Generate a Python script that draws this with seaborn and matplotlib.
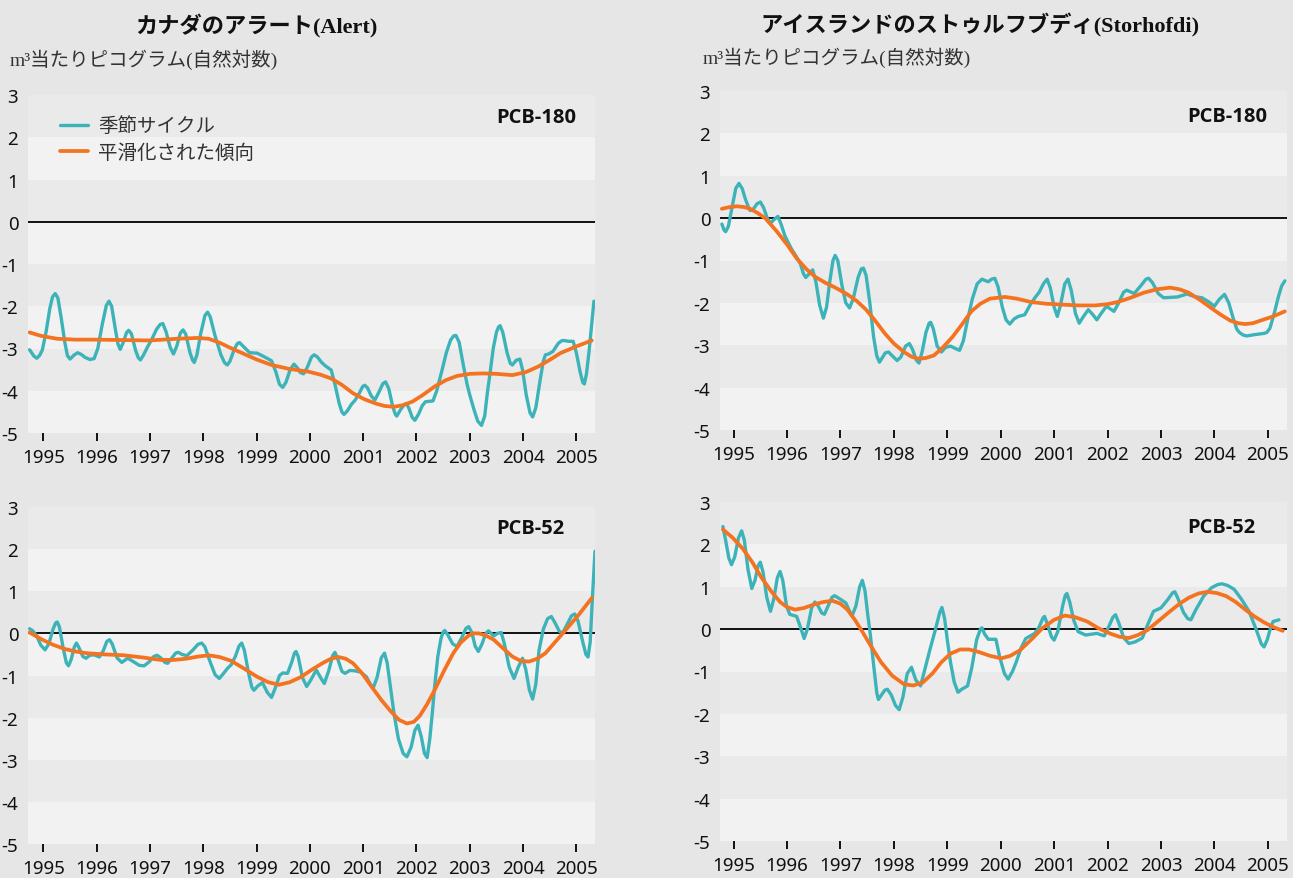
import matplotlib
matplotlib.use("Agg")
import matplotlib.pyplot as plt
from matplotlib import font_manager
import seaborn as sns
import pandas as pd

# ---------------- data ----------------
# Alert, PCB-180
alert180_season_x = [1994.74, 1994.82, 1994.875, 1994.93, 1994.98, 1995.05, 1995.12, 1995.17, 1995.22, 1995.27,
                     1995.33, 1995.40, 1995.45, 1995.50, 1995.57, 1995.64, 1995.71, 1995.78, 1995.87, 1995.95,
                     1996.02, 1996.10, 1996.18, 1996.23, 1996.28, 1996.35, 1996.40, 1996.44, 1996.50, 1996.56,
                     1996.60, 1996.65, 1996.73, 1996.78, 1996.82, 1996.88, 1996.95, 1997.03, 1997.12, 1997.19,
                     1997.24, 1997.30, 1997.38, 1997.44, 1997.50, 1997.57, 1997.62, 1997.67, 1997.75, 1997.80,
                     1997.83, 1997.88, 1997.95, 1998.03, 1998.08, 1998.13, 1998.22, 1998.33, 1998.40, 1998.45,
                     1998.50, 1998.58, 1998.64, 1998.68, 1998.75, 1998.87, 1999.01, 1999.15, 1999.28, 1999.36,
                     1999.43, 1999.49, 1999.55, 1999.63, 1999.70, 1999.76, 1999.82, 1999.88, 1999.95, 2000.03,
                     2000.08, 2000.14, 2000.22, 2000.29, 2000.40, 2000.47, 2000.55, 2000.60, 2000.64, 2000.70,
                     2000.78, 2000.85, 2000.93, 2000.99, 2001.03, 2001.08, 2001.15, 2001.22, 2001.30, 2001.37,
                     2001.42, 2001.48, 2001.55, 2001.60, 2001.63, 2001.70, 2001.77, 2001.81, 2001.86, 2001.92,
                     2001.97, 2002.04, 2002.11, 2002.17, 2002.31, 2002.38, 2002.48, 2002.56, 2002.64, 2002.70,
                     2002.74, 2002.80, 2002.88, 2002.95, 2003.00, 2003.08, 2003.15, 2003.22, 2003.28, 2003.33,
                     2003.38, 2003.44, 2003.50, 2003.54, 2003.57, 2003.62, 2003.70, 2003.76, 2003.80, 2003.87,
                     2003.94, 2003.99, 2004.06, 2004.13, 2004.18, 2004.24, 2004.32, 2004.38, 2004.42, 2004.48,
                     2004.56, 2004.66, 2004.72, 2004.76, 2004.86, 2004.94, 2005.00, 2005.07, 2005.12, 2005.15,
                     2005.19, 2005.24, 2005.29, 2005.33]
alert180_season_y = [-3.03, -3.18, -3.23, -3.16, -3.03, -2.60, -2.05, -1.78, -1.70, -1.80,
                     -2.25, -2.85, -3.17, -3.25, -3.16, -3.10, -3.14, -3.21, -3.26, -3.24,
                     -3.00, -2.45, -1.98, -1.88, -2.00, -2.55, -2.90, -3.02, -2.85, -2.62,
                     -2.57, -2.65, -3.05, -3.22, -3.27, -3.15, -2.97, -2.79, -2.55, -2.43,
                     -2.41, -2.60, -2.98, -3.13, -2.95, -2.63, -2.56, -2.66, -3.10, -3.28,
                     -3.33, -3.15, -2.65, -2.22, -2.14, -2.25, -2.70, -3.15, -3.34, -3.39,
                     -3.30, -3.02, -2.88, -2.86, -2.95, -3.10, -3.11, -3.20, -3.29, -3.55,
                     -3.85, -3.92, -3.80, -3.50, -3.37, -3.45, -3.57, -3.60, -3.45, -3.20,
                     -3.15, -3.20, -3.33, -3.41, -3.51, -3.85, -4.30, -4.50, -4.56, -4.48,
                     -4.32, -4.22, -4.05, -3.90, -3.87, -3.93, -4.12, -4.22, -4.02, -3.83,
                     -3.79, -3.95, -4.35, -4.55, -4.60, -4.45, -4.33, -4.30, -4.42, -4.63,
                     -4.70, -4.55, -4.35, -4.26, -4.24, -4.00, -3.51, -3.10, -2.80, -2.70,
                     -2.69, -2.85, -3.40, -3.85, -4.10, -4.45, -4.72, -4.82, -4.60, -4.05,
                     -3.59, -3.00, -2.62, -2.49, -2.46, -2.62, -3.10, -3.35, -3.39, -3.28,
                     -3.25, -3.50, -4.10, -4.52, -4.62, -4.40, -3.75, -3.30, -3.15, -3.13,
                     -3.07, -2.88, -2.82, -2.81, -2.83, -2.83, -3.10, -3.55, -3.80, -3.84,
                     -3.60, -3.05, -2.40, -1.88]
alert180_trend_x = [1994.74, 1994.95, 1995.26, 1995.60, 1995.95, 1996.50, 1996.99, 1997.50, 1997.90, 1998.10,
                    1998.30, 1998.50, 1998.73, 1999.00, 1999.28, 1999.60, 1999.98, 2000.20, 2000.40, 2000.60,
                    2000.81, 2001.02, 2001.23, 2001.40, 2001.58, 2001.75, 2001.92, 2002.12, 2002.34, 2002.55,
                    2002.76, 2003.00, 2003.24, 2003.50, 2003.80, 2004.05, 2004.28, 2004.50, 2004.70, 2005.00,
                    2005.29]
alert180_trend_y = [-2.62, -2.70, -2.77, -2.79, -2.79, -2.80, -2.81, -2.77, -2.75, -2.77,
                    -2.86, -2.98, -3.11, -3.26, -3.39, -3.48, -3.55, -3.62, -3.71, -3.86,
                    -4.06, -4.20, -4.30, -4.36, -4.38, -4.34, -4.26, -4.10, -3.90, -3.75,
                    -3.65, -3.60, -3.59, -3.60, -3.63, -3.56, -3.43, -3.27, -3.11, -2.95,
                    -2.81]

# Storhofdi, PCB-180
storh180_season_x = [1994.78, 1994.82, 1994.85, 1994.90, 1994.97, 1995.04, 1995.10, 1995.16, 1995.22, 1995.28,
                     1995.31, 1995.36, 1995.44, 1995.50, 1995.56, 1995.63, 1995.69, 1995.76, 1995.83, 1995.89,
                     1995.96, 1996.08, 1996.18, 1996.25, 1996.31, 1996.35, 1996.41, 1996.48, 1996.54, 1996.61,
                     1996.68, 1996.74, 1996.80, 1996.86, 1996.90, 1996.95, 1997.03, 1997.10, 1997.17, 1997.24,
                     1997.33, 1997.39, 1997.43, 1997.48, 1997.55, 1997.62, 1997.68, 1997.73, 1997.78, 1997.84,
                     1997.90, 1997.97, 1998.06, 1998.13, 1998.22, 1998.29, 1998.35, 1998.42, 1998.47, 1998.53,
                     1998.60, 1998.66, 1998.69, 1998.74, 1998.81, 1998.89, 1998.97, 1999.06, 1999.14, 1999.23,
                     1999.30, 1999.38, 1999.47, 1999.56, 1999.65, 1999.72, 1999.77, 1999.83, 1999.89, 1999.95,
                     2000.03, 2000.10, 2000.17, 2000.25, 2000.33, 2000.45, 2000.55, 2000.64, 2000.72, 2000.80,
                     2000.87, 2000.93, 2001.00, 2001.06, 2001.12, 2001.20, 2001.26, 2001.32, 2001.40, 2001.47,
                     2001.55, 2001.64, 2001.72, 2001.80, 2001.88, 2001.98, 2002.05, 2002.12, 2002.20, 2002.30,
                     2002.36, 2002.50, 2002.62, 2002.72, 2002.77, 2002.84, 2002.95, 2003.05, 2003.18, 2003.31,
                     2003.49, 2003.62, 2003.77, 2003.90, 2004.00, 2004.09, 2004.19, 2004.27, 2004.35, 2004.42,
                     2004.47, 2004.54, 2004.61, 2004.75, 2004.93, 2004.98, 2005.04, 2005.12, 2005.20, 2005.26,
                     2005.32]
storh180_season_y = [-0.14, -0.28, -0.32, -0.20, 0.25, 0.70, 0.82, 0.70, 0.45, 0.25,
                     0.18, 0.20, 0.34, 0.38, 0.25, 0.00, -0.12, -0.03, 0.04, -0.15,
                     -0.42, -0.72, -0.92, -1.08, -1.32, -1.40, -1.32, -1.22, -1.50, -2.05,
                     -2.36, -2.10, -1.50, -1.00, -0.88, -1.00, -1.60, -2.00, -2.12, -1.90,
                     -1.40, -1.20, -1.18, -1.35, -2.00, -2.80, -3.25, -3.40, -3.30, -3.18,
                     -3.16, -3.25, -3.36, -3.28, -3.02, -2.96, -3.10, -3.35, -3.42, -3.15,
                     -2.70, -2.48, -2.46, -2.62, -3.02, -3.16, -3.05, -3.02, -3.07, -3.12,
                     -2.90, -2.40, -1.90, -1.55, -1.44, -1.48, -1.50, -1.44, -1.42, -1.62,
                     -2.10, -2.40, -2.50, -2.38, -2.32, -2.28, -2.05, -1.88, -1.75, -1.55,
                     -1.44, -1.65, -2.10, -2.32, -2.05, -1.55, -1.44, -1.70, -2.25, -2.48,
                     -2.32, -2.16, -2.27, -2.40, -2.25, -2.08, -2.14, -2.20, -2.02, -1.75,
                     -1.70, -1.78, -1.60, -1.44, -1.42, -1.52, -1.78, -1.88, -1.87, -1.86,
                     -1.79, -1.85, -1.88, -1.98, -2.08, -1.92, -1.80, -2.00, -2.35, -2.62,
                     -2.70, -2.76, -2.78, -2.75, -2.72, -2.70, -2.60, -2.25, -1.85, -1.60,
                     -1.48]
storh180_trend_x = [1994.78, 1994.92, 1995.06, 1995.20, 1995.31, 1995.45, 1995.59, 1995.80, 1996.01, 1996.18,
                    1996.36, 1996.52, 1996.71, 1996.92, 1997.13, 1997.30, 1997.48, 1997.65, 1997.83, 1998.00,
                    1998.19, 1998.33, 1998.47, 1998.60, 1998.75, 1998.92, 1999.10, 1999.28, 1999.45, 1999.62,
                    1999.80, 2000.08, 2000.30, 2000.57, 2000.85, 2001.14, 2001.45, 2001.77, 2002.00, 2002.19,
                    2002.43, 2002.68, 2002.92, 2003.17, 2003.35, 2003.52, 2003.72, 2003.94, 2004.12, 2004.30,
                    2004.45, 2004.58, 2004.72, 2004.86, 2005.10, 2005.32]
storh180_trend_y = [0.22, 0.26, 0.28, 0.26, 0.22, 0.12, 0.00, -0.30, -0.64, -0.95,
                    -1.20, -1.38, -1.52, -1.65, -1.80, -1.95, -2.16, -2.42, -2.72, -2.96,
                    -3.16, -3.27, -3.32, -3.30, -3.24, -3.05, -2.80, -2.50, -2.20, -2.02,
                    -1.90, -1.86, -1.90, -1.98, -2.02, -2.04, -2.06, -2.06, -2.03, -1.98,
                    -1.88, -1.76, -1.68, -1.64, -1.68, -1.76, -1.92, -2.12, -2.28, -2.42,
                    -2.48, -2.50, -2.48, -2.42, -2.32, -2.20]

# Alert, PCB-52
alert52_season_x = [1994.74, 1994.80, 1994.875, 1994.95, 1995.03, 1995.10, 1995.18, 1995.23, 1995.26, 1995.30,
                    1995.37, 1995.43, 1995.47, 1995.52, 1995.58, 1995.62, 1995.67, 1995.74, 1995.80, 1995.87,
                    1995.95, 1996.05, 1996.12, 1996.19, 1996.24, 1996.29, 1996.38, 1996.47, 1996.58, 1996.70,
                    1996.80, 1996.89, 1996.98, 1997.07, 1997.13, 1997.20, 1997.28, 1997.33, 1997.40, 1997.48,
                    1997.53, 1997.60, 1997.69, 1997.80, 1997.90, 1997.97, 1998.03, 1998.12, 1998.22, 1998.30,
                    1998.38, 1998.46, 1998.52, 1998.60, 1998.67, 1998.72, 1998.77, 1998.85, 1998.91, 1998.95,
                    1999.02, 1999.11, 1999.20, 1999.28, 1999.35, 1999.43, 1999.49, 1999.58, 1999.66, 1999.71,
                    1999.74, 1999.78, 1999.86, 1999.94, 2000.02, 2000.12, 2000.20, 2000.27, 2000.35, 2000.43,
                    2000.47, 2000.52, 2000.60, 2000.66, 2000.75, 2000.85, 2000.95, 2001.06, 2001.13, 2001.19,
                    2001.26, 2001.34, 2001.40, 2001.45, 2001.52, 2001.58, 2001.66, 2001.75, 2001.82, 2001.90,
                    2001.97, 2002.03, 2002.09, 2002.15, 2002.20, 2002.25, 2002.30, 2002.34, 2002.40, 2002.46,
                    2002.50, 2002.53, 2002.58, 2002.68, 2002.76, 2002.85, 2002.93, 2002.98, 2003.04, 2003.10,
                    2003.16, 2003.23, 2003.30, 2003.35, 2003.45, 2003.52, 2003.59, 2003.65, 2003.74, 2003.83,
                    2003.91, 2003.99, 2004.05, 2004.12, 2004.18, 2004.24, 2004.30, 2004.38, 2004.46, 2004.53,
                    2004.60, 2004.68, 2004.74, 2004.82, 2004.91, 2004.97, 2005.03, 2005.12, 2005.18, 2005.22,
                    2005.26, 2005.30, 2005.35]
alert52_season_y = [0.11, 0.06, -0.06, -0.28, -0.39, -0.25, 0.10, 0.25, 0.27, 0.15,
                    -0.35, -0.70, -0.77, -0.62, -0.32, -0.23, -0.35, -0.55, -0.59, -0.52,
                    -0.51, -0.56, -0.42, -0.19, -0.15, -0.25, -0.58, -0.69, -0.59, -0.68,
                    -0.76, -0.77, -0.68, -0.55, -0.52, -0.58, -0.69, -0.71, -0.60, -0.47,
                    -0.45, -0.50, -0.53, -0.40, -0.26, -0.23, -0.32, -0.65, -0.98, -1.07,
                    -0.95, -0.82, -0.75, -0.55, -0.30, -0.23, -0.40, -0.95, -1.28, -1.35,
                    -1.25, -1.17, -1.40, -1.52, -1.30, -1.00, -0.94, -0.95, -0.68, -0.47,
                    -0.43, -0.55, -1.05, -1.26, -1.10, -0.87, -1.05, -1.19, -0.90, -0.52,
                    -0.45, -0.60, -0.90, -0.95, -0.88, -0.89, -0.92, -1.03, -1.20, -1.29,
                    -1.05, -0.58, -0.47, -0.70, -1.35, -1.92, -2.50, -2.85, -2.93, -2.70,
                    -2.30, -2.18, -2.45, -2.85, -2.95, -2.50, -1.85, -1.27, -0.55, -0.12,
                    0.03, 0.07, -0.02, -0.25, -0.31, -0.10, 0.12, 0.16, 0.02, -0.30,
                    -0.43, -0.25, 0.00, 0.06, -0.06, 0.00, 0.02, -0.25, -0.80, -1.07,
                    -0.80, -0.59, -0.85, -1.35, -1.56, -1.20, -0.40, 0.10, 0.35, 0.40,
                    0.25, 0.05, 0.00, 0.20, 0.42, 0.46, 0.30, -0.20, -0.50, -0.56,
                    -0.20, 0.80, 1.95]
alert52_trend_x = [1994.74, 1994.85, 1994.98, 1995.18, 1995.40, 1995.60, 1995.81, 1996.15, 1996.51, 1996.85,
                   1997.20, 1997.45, 1997.69, 1997.90, 1998.10, 1998.30, 1998.52, 1998.77, 1999.01, 1999.22,
                   1999.42, 1999.62, 1999.84, 2000.05, 2000.26, 2000.40, 2000.53, 2000.67, 2000.81, 2000.98,
                   2001.16, 2001.34, 2001.51, 2001.67, 2001.82, 2001.95, 2002.06, 2002.20, 2002.34, 2002.52,
                   2002.69, 2002.83, 2002.97, 2003.07, 2003.17, 2003.30, 2003.45, 2003.62, 2003.80, 2003.95,
                   2004.11, 2004.27, 2004.42, 2004.62, 2004.84, 2005.05, 2005.29]
alert52_trend_y = [0.02, -0.06, -0.15, -0.27, -0.37, -0.43, -0.47, -0.50, -0.52, -0.57,
                   -0.63, -0.63, -0.60, -0.55, -0.52, -0.56, -0.65, -0.84, -1.03, -1.16,
                   -1.22, -1.16, -1.03, -0.85, -0.69, -0.60, -0.56, -0.60, -0.71, -0.95,
                   -1.27, -1.58, -1.84, -2.05, -2.14, -2.10, -1.96, -1.68, -1.35, -0.88,
                   -0.47, -0.22, -0.06, 0.00, 0.00, -0.05, -0.15, -0.35, -0.55, -0.65,
                   -0.67, -0.60, -0.47, -0.18, 0.14, 0.45, 0.84]

# Storhofdi, PCB-52
storh52_season_x = [1994.80, 1994.85, 1994.91, 1994.96, 1995.02, 1995.09, 1995.15, 1995.20, 1995.27, 1995.34,
                    1995.40, 1995.46, 1995.50, 1995.55, 1995.62, 1995.69, 1995.75, 1995.82, 1995.87, 1995.92,
                    1995.99, 1996.05, 1996.18, 1996.25, 1996.32, 1996.38, 1996.46, 1996.52, 1996.58, 1996.65,
                    1996.70, 1996.77, 1996.84, 1996.89, 1996.98, 1997.10, 1997.18, 1997.22, 1997.29, 1997.36,
                    1997.41, 1997.46, 1997.51, 1997.56, 1997.63, 1997.68, 1997.71, 1997.77, 1997.83, 1997.88,
                    1997.95, 1998.03, 1998.10, 1998.17, 1998.25, 1998.33, 1998.41, 1998.50, 1998.58, 1998.68,
                    1998.78, 1998.86, 1998.90, 1998.95, 1999.00, 1999.06, 1999.13, 1999.20, 1999.27, 1999.38,
                    1999.46, 1999.55, 1999.62, 1999.65, 1999.70, 1999.77, 1999.91, 1999.98, 2000.07, 2000.14,
                    2000.22, 2000.29, 2000.38, 2000.47, 2000.64, 2000.72, 2000.79, 2000.82, 2000.88, 2000.95,
                    2001.00, 2001.07, 2001.16, 2001.21, 2001.24, 2001.29, 2001.37, 2001.45, 2001.59, 2001.80,
                    2001.94, 2002.02, 2002.10, 2002.15, 2002.21, 2002.30, 2002.40, 2002.52, 2002.65, 2002.75,
                    2002.86, 2003.00, 2003.13, 2003.22, 2003.26, 2003.32, 2003.42, 2003.50, 2003.56, 2003.65,
                    2003.80, 2003.95, 2004.06, 2004.14, 2004.25, 2004.37, 2004.50, 2004.65, 2004.78, 2004.88,
                    2004.93, 2004.99, 2005.05, 2005.10, 2005.21]
storh52_season_y = [2.42, 2.10, 1.68, 1.52, 1.70, 2.15, 2.32, 2.10, 1.40, 0.96,
                    1.15, 1.50, 1.58, 1.35, 0.75, 0.42, 0.70, 1.22, 1.36, 1.15,
                    0.55, 0.35, 0.30, 0.05, -0.22, 0.00, 0.50, 0.64, 0.55, 0.38,
                    0.35, 0.55, 0.75, 0.79, 0.72, 0.62, 0.40, 0.32, 0.55, 1.00,
                    1.15, 0.90, 0.35, -0.14, -0.95, -1.50, -1.66, -1.55, -1.44, -1.42,
                    -1.55, -1.80, -1.90, -1.60, -1.05, -0.90, -1.20, -1.34, -0.95, -0.46,
                    0.00, 0.40, 0.51, 0.25, -0.25, -0.78, -1.25, -1.49, -1.42, -1.34,
                    -0.90, -0.25, 0.00, 0.03, -0.12, -0.24, -0.24, -0.65, -1.05, -1.18,
                    -1.00, -0.78, -0.45, -0.22, -0.10, 0.05, 0.26, 0.30, 0.10, -0.18,
                    -0.26, -0.05, 0.55, 0.80, 0.84, 0.65, 0.20, -0.06, -0.14, -0.10,
                    -0.16, 0.05, 0.28, 0.34, 0.15, -0.20, -0.34, -0.30, -0.21, 0.10,
                    0.42, 0.50, 0.70, 0.86, 0.88, 0.72, 0.40, 0.25, 0.22, 0.45,
                    0.78, 0.98, 1.05, 1.07, 1.03, 0.94, 0.72, 0.42, 0.00, -0.35,
                    -0.42, -0.25, 0.02, 0.18, 0.22]
storh52_trend_x = [1994.80, 1994.98, 1995.17, 1995.35, 1995.52, 1995.70, 1995.87, 1996.00, 1996.15, 1996.32,
                   1996.50, 1996.68, 1996.85, 1997.00, 1997.13, 1997.27, 1997.41, 1997.58, 1997.76, 1997.97,
                   1998.19, 1998.36, 1998.54, 1998.72, 1998.89, 1999.06, 1999.24, 1999.41, 1999.59, 1999.80,
                   2000.01, 2000.18, 2000.36, 2000.57, 2000.78, 2001.00, 2001.20, 2001.40, 2001.62, 2001.83,
                   2002.04, 2002.22, 2002.40, 2002.57, 2002.75, 2002.96, 2003.17, 2003.35, 2003.52, 2003.70,
                   2003.87, 2004.05, 2004.22, 2004.40, 2004.58, 2004.75, 2004.93, 2005.10, 2005.28]
storh52_trend_y = [2.35, 2.16, 1.90, 1.58, 1.22, 0.90, 0.64, 0.52, 0.46, 0.50,
                   0.58, 0.64, 0.67, 0.60, 0.46, 0.22, -0.06, -0.42, -0.78, -1.10,
                   -1.30, -1.33, -1.26, -1.05, -0.78, -0.58, -0.48, -0.48, -0.54, -0.63,
                   -0.69, -0.63, -0.50, -0.25, 0.02, 0.22, 0.32, 0.28, 0.18, 0.02,
                   -0.10, -0.18, -0.21, -0.14, -0.02, 0.20, 0.42, 0.60, 0.74, 0.84,
                   0.88, 0.85, 0.78, 0.64, 0.46, 0.30, 0.16, 0.05, -0.04]

years = list(range(1995, 2006))
yticks = [3, 2, 1, 0, -1, -2, -3, -4, -5]
series_labels = ["季節サイクル", "平滑化された傾向"]
compound_labels = ["PCB-180", "PCB-52"]
station_titles = ["カナダのアラート(Alert)", "アイスランドのストゥルフブディ(Storhofdi)"]
unit_label = "m³当たりピコグラム(自然対数)"

# ---------------- style ----------------
sns.set_theme(style="white")


def has_font(name):
    try:
        font_manager.findfont(name, fallback_to_default=False)
        return True
    except Exception:
        return False


cjk = "Noto Sans CJK JP"
num_font = "Liberation Sans Narrow" if has_font("Liberation Sans Narrow") else "Noto Sans"
plt.rcParams["font.family"] = [num_font, cjk, "DejaVu Sans"]
bold_font = "Open Sans" if has_font("Open Sans") else "DejaVu Sans"

FIG_BG = "#e6e6e6"
BAND_DARK = "#eaeaea"
BAND_LIGHT = "#f2f2f2"
TEAL = "#3cb3b8"
ORANGE = "#f47320"

fig = plt.figure(figsize=(12.93, 8.79), dpi=100, facecolor=FIG_BG)

W, H = 1293, 879


def rect(l, t, r, b):
    return [l / W, 1 - b / H, (r - l) / W, (b - t) / H]


panels = [
    (rect(28, 96, 595, 434), alert180_season_x, alert180_season_y, alert180_trend_x, alert180_trend_y,
     compound_labels[0], (1994.71, 2005.35), True, (0.826, 0.935)),
    (rect(720, 92, 1287, 431), storh180_season_x, storh180_season_y, storh180_trend_x, storh180_trend_y,
     compound_labels[0], (1994.745, 2005.36), False, (0.824, 0.925)),
    (rect(28, 508, 595, 845), alert52_season_x, alert52_season_y, alert52_trend_x, alert52_trend_y,
     compound_labels[1], (1994.71, 2005.35), False, (0.826, 0.938)),
    (rect(720, 503, 1287, 842), storh52_season_x, storh52_season_y, storh52_trend_x, storh52_trend_y,
     compound_labels[1], (1994.745, 2005.36), False, (0.824, 0.925)),
]

for pos, sx, sy, tx, ty, label, xlim, show_legend, lab_xy in panels:
    ax = fig.add_axes(pos)
    ax.set_facecolor(FIG_BG)
    for lo in range(-5, 3):
        ax.axhspan(lo, lo + 1, color=BAND_DARK if (lo % 2 == 0) else BAND_LIGHT, lw=0, zorder=0)
    ax.axhline(0, color="black", lw=1.3, zorder=1)
    df_s = pd.DataFrame({"year": sx, "value": sy})
    df_t = pd.DataFrame({"year": tx, "value": ty})
    sns.lineplot(data=df_s, x="year", y="value", ax=ax, color=TEAL, lw=2.4, estimator=None,
                 label=series_labels[0], zorder=3, solid_joinstyle="round", solid_capstyle="round")
    sns.lineplot(data=df_t, x="year", y="value", ax=ax, color=ORANGE, lw=2.7, estimator=None,
                 label=series_labels[1], zorder=4, solid_joinstyle="round", solid_capstyle="round")
    ax.set_xlim(*xlim)
    ax.set_ylim(-5, 3)
    ax.set_xticks(years)
    ax.set_xticklabels([str(y) for y in years])
    ax.set_yticks(yticks)
    ax.set_yticklabels([str(v) for v in yticks])
    ax.set_xlabel("")
    ax.set_ylabel("")
    for s in ax.spines.values():
        s.set_visible(False)
    ax.tick_params(axis="x", which="major", direction="out", length=6, width=1.3, color="black",
                   pad=5, labelsize=13.5, labelcolor="#111111", bottom=True)
    ax.tick_params(axis="y", which="major", length=0, pad=7, labelsize=13.5, labelcolor="#111111", left=True)
    ax.text(lab_xy[0], lab_xy[1], label, transform=ax.transAxes, ha="left", va="center", fontsize=14.5,
            fontweight="bold", color="#111111", family=[bold_font, "DejaVu Sans"])
    if show_legend:
        leg = ax.legend(loc="upper left", bbox_to_anchor=(0.05, 0.951), frameon=False,
                        handlelength=1.45, handletextpad=0.5, labelspacing=0.3, borderaxespad=0,
                        borderpad=0.2, prop={"family": [cjk], "size": 14})
        for t in leg.get_texts():
            t.set_color("#333333")
    else:
        lg = ax.get_legend()
        if lg is not None:
            lg.remove()

fig.text(256 / W, 1 - 25 / H, station_titles[0], ha="center", va="center", fontsize=16,
         fontweight="bold", family=["Liberation Serif", cjk], color="#111111")
fig.text(980 / W, 1 - 25 / H, station_titles[1], ha="center", va="center", fontsize=16,
         fontweight="bold", family=["Liberation Serif", cjk], color="#111111")
fig.text(10 / W, 1 - 60 / H, unit_label, ha="left", va="center", fontsize=14,
         family=["Liberation Serif", cjk], color="#333333")
fig.text(703 / W, 1 - 58 / H, unit_label, ha="left", va="center", fontsize=14,
         family=["Liberation Serif", cjk], color="#333333")

fig.savefig("out.png", dpi=100, facecolor=FIG_BG)
